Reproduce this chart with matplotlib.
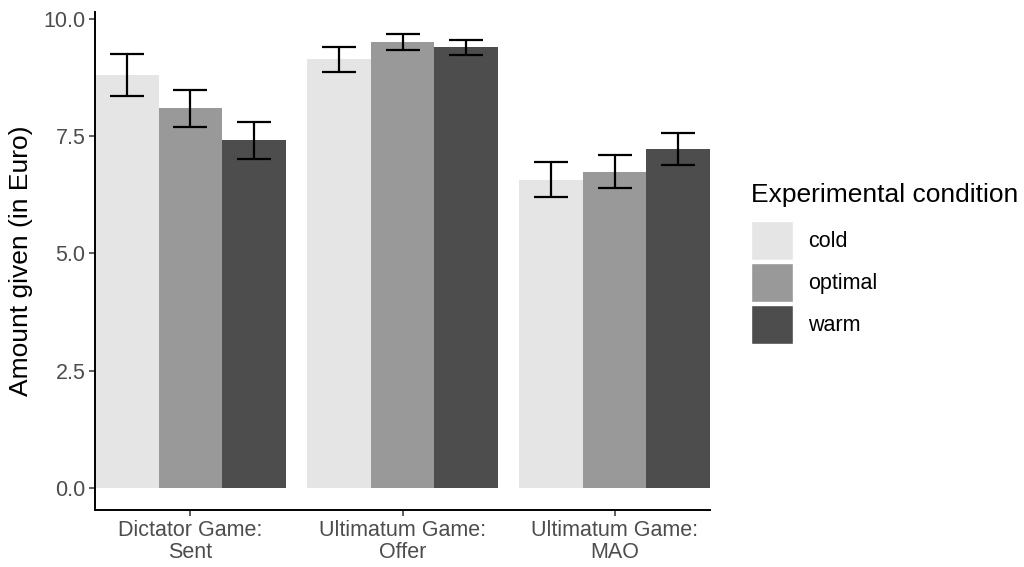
"""
Amount given per game and experimental condition, with error bars
"""

import numpy as np
from matplotlib import pyplot as plt
from matplotlib.patches import Patch

plt.rcParams['font.family'] = ['Liberation Sans', 'DejaVu Sans']

games = ['Dictator Game:\nSent', 'Ultimatum Game:\nOffer', 'Ultimatum Game:\nMAO']
conditions = ['cold', 'optimal', 'warm']
colors = ['#E5E5E5', '#999999', '#4D4D4D']

# mean per game, one list per condition
means = {
    'cold':    [8.81, 9.15, 6.57],
    'optimal': [8.11, 9.51, 6.74],
    'warm':    [7.43, 9.40, 7.23],
}
lower = {
    'cold':    [8.37, 8.87, 6.20],
    'optimal': [7.70, 9.34, 6.39],
    'warm':    [7.01, 9.23, 6.90],
}
upper = {
    'cold':    [9.27, 9.40, 6.95],
    'optimal': [8.50, 9.68, 7.11],
    'warm':    [7.81, 9.57, 7.57],
}

fig = plt.figure(figsize=(10.24, 5.67), dpi=100)
ax = fig.add_axes([0.0928, 0.1005, 0.6006, 0.8785])

x = np.arange(1, len(games) + 1)
width = 0.3
for i, cond in enumerate(conditions):
    pos = x + (i - 1) * width
    m = np.array(means[cond])
    err = [m - np.array(lower[cond]), np.array(upper[cond]) - m]
    ax.bar(pos, m, width=width, color=colors[i], linewidth=0, zorder=1)
    ax.errorbar(pos, m, yerr=err, fmt='none', ecolor='black',
                elinewidth=1.6, capsize=12.2, capthick=1.6, zorder=2)

ax.set_xlim(0.55, 3.45)
ax.set_ylim(-0.48, 10.16)
ax.set_xticks(x)
ax.set_xticklabels(games, fontsize=15.5, color='#4D4D4D', linespacing=1.05)
ax.set_yticks([0, 2.5, 5, 7.5, 10])
ax.set_yticklabels(['0.0', '2.5', '5.0', '7.5', '10.0'], fontsize=15.5, color='#4D4D4D')
ax.set_ylabel('Amount given (in Euro)', fontsize=19, labelpad=7)

for side in ['top', 'right']:
    ax.spines[side].set_visible(False)
for side in ['left', 'bottom']:
    ax.spines[side].set_linewidth(1.4)
ax.tick_params(length=4, width=1.1, color='#333333', pad=3)

handles = [Patch(facecolor=c, edgecolor='white', linewidth=1.0) for c in colors]
leg = fig.legend(handles, conditions, title='Experimental condition',
                 loc='upper left', bbox_to_anchor=(0.733, 0.677),
                 frameon=False, fontsize=15.5, title_fontsize=19,
                 handlelength=1.95, handleheight=2.4, handletextpad=0.7,
                 labelspacing=0.14, borderaxespad=0, borderpad=0)
leg._legend_box.align = 'left'
leg._legend_box.sep = 10

plt.savefig('out.png', dpi=100)
